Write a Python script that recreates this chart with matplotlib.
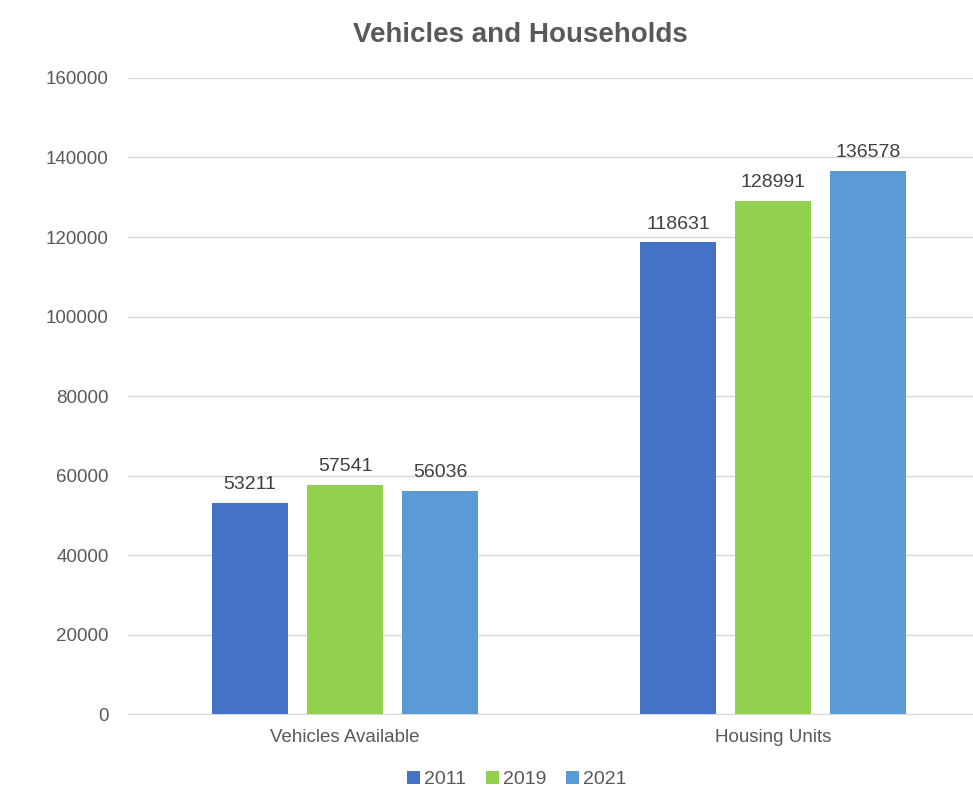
import numpy as np
import matplotlib
matplotlib.use("Agg")
import matplotlib.pyplot as plt

plt.rcParams['font.family'] = ['Liberation Sans', 'DejaVu Sans']

categories = ["Vehicles Available", "Housing Units"]
years = ["2011", "2019", "2021"]
values_2011 = [53211, 118631]
values_2019 = [57541, 128991]
values_2021 = [56036, 136578]
colors = ["#4472C4", "#92D050", "#5B9BD5"]

fig = plt.figure(figsize=(9.73, 7.91), dpi=100)
ax = fig.add_axes([0.1316, 0.0973, 0.8684, 0.8041])

x = np.arange(len(categories))
width = 0.178
offset = 0.222
series = [values_2011, values_2019, values_2021]
for i, (vals, yr, c) in enumerate(zip(series, years, colors)):
    bars = ax.bar(x + (i - 1) * offset, vals, width, color=c, label=yr, zorder=3)
    for b, v in zip(bars, vals):
        ax.text(b.get_x() + b.get_width() / 2, v + 2500, str(v),
                ha='center', va='bottom', fontsize=14, color='#404040')

ax.set_ylim(0, 160000)
ax.set_yticks(np.arange(0, 160001, 20000))
ax.set_xlim(-0.507, 1.467)
ax.set_xticks(x)
ax.set_xticklabels(categories)
ax.tick_params(axis='both', length=0, labelsize=13.5, labelcolor='#595959')
ax.tick_params(axis='y', pad=14)
ax.tick_params(axis='x', pad=11)
ax.grid(axis='y', color='#d9d9d9', linewidth=1, zorder=0)
for s in ['top', 'right', 'left']:
    ax.spines[s].set_visible(False)
ax.spines['bottom'].set_color('#d9d9d9')

fig.text(0.535, 0.956, "Vehicles and Households", ha='center', va='center',
         fontsize=20, fontweight='bold', color='#595959')

ax.legend(loc='center', bbox_to_anchor=(0.46, -0.103), ncol=3, frameon=False,
          fontsize=14, handlelength=0.7, handleheight=0.7, handletextpad=0.2,
          columnspacing=1.0, labelcolor='#595959')

fig.savefig("out.png", dpi=100)
